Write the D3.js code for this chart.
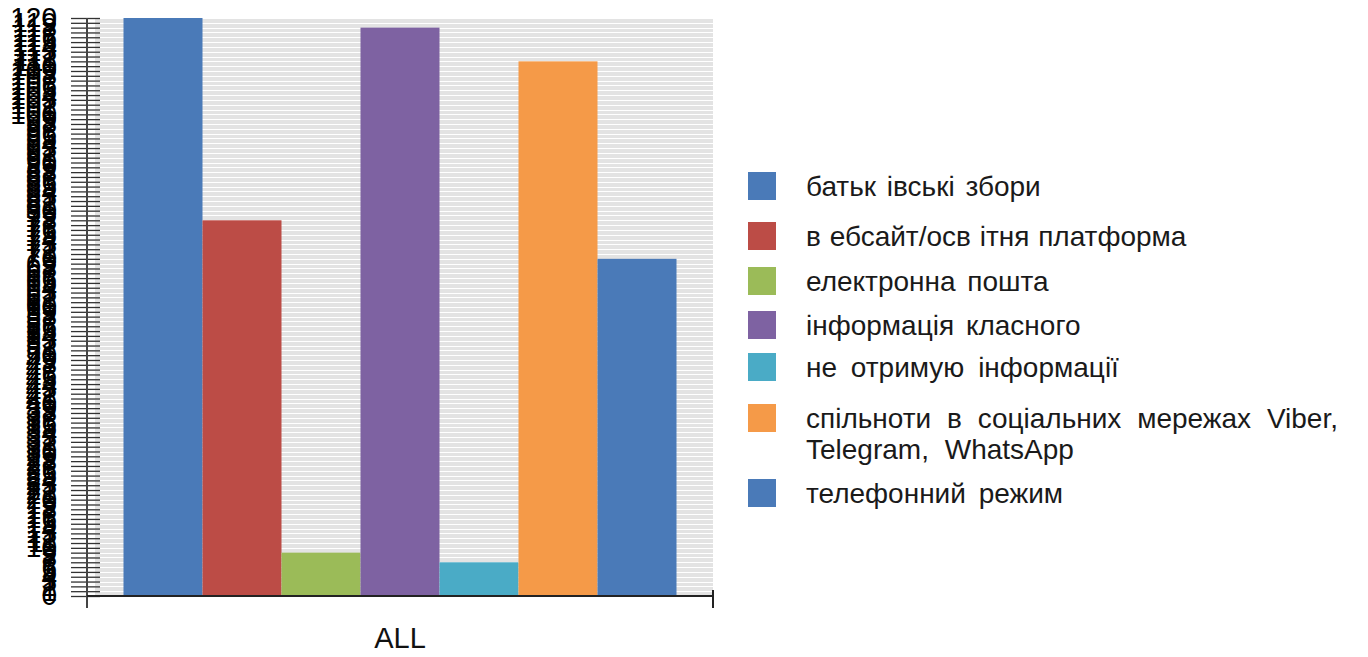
<!DOCTYPE html>
<html><head><meta charset="utf-8">
<script src="https://cdn.jsdelivr.net/npm/d3@7"></script>
<style>body{margin:0;background:#fff;} text{font-family:"Liberation Sans",Arial,sans-serif;}</style>
</head><body>
<svg id="c" width="1368" height="657"></svg>
<script>
const categories = ["ALL"];
const seriesNames = ["батьківські збори","вебсайт/освітня платформа","електронна пошта","інформація класного","не  отримую інформації","спільноти в соціальних мережах Viber, Telegram, WhatsApp","телефонний режим"];
const legendLines = [["батьк івські збори"],["в ебсайт/осв ітня платформа"],["електронна пошта"],["інформація класного"],["не  отримую інформації"],["спільноти в соціальних мережах Viber,","Telegram, WhatsApp"],["телефонний режим"]];
const values = [120, 78, 9, 118, 7, 111, 70];
const colors = ["#4a7ab8","#bc4c46","#9bbb58","#7e62a2","#4aabc6","#f59a48","#4a7ab8"];
const yTicks = d3.range(0, 121, 1);

const svg = d3.select("#c");
const plot = {left: 87, right: 713, top: 18, bottom: 596};

const y = d3.scaleLinear().domain([0, 120]).range([plot.bottom, plot.top]);
const x0 = d3.scaleBand().domain(categories).range([plot.left, plot.right]).paddingInner(0).paddingOuter(0.066);
const x1 = d3.scaleBand().domain(d3.range(values.length)).range([0, x0.bandwidth()]).padding(0);

// background
svg.append("rect").attr("x", 95).attr("y", plot.top).attr("width", plot.right - 95).attr("height", plot.bottom - plot.top).attr("fill", "#e3e3e3");
// gridlines
svg.append("g").selectAll("line").data(yTicks).join("line")
  .attr("x1", 95).attr("x2", plot.right)
  .attr("y1", d => Math.round(y(d)) + 0.5).attr("y2", d => Math.round(y(d)) + 0.5)
  .attr("stroke", "#ffffff").attr("stroke-width", 1);

// bars
const g = svg.append("g").attr("transform", `translate(${x0("ALL")},0)`);
g.selectAll("rect").data(values).join("rect")
  .attr("x", (d, i) => x1(i)).attr("width", x1.bandwidth())
  .attr("y", d => y(d)).attr("height", d => y(0) - y(d))
  .attr("fill", (d, i) => colors[i]);

// y axis
const yAxis = d3.axisLeft(y).tickValues(yTicks).tickSize(14).tickPadding(16).tickFormat(d3.format("d"));
const ya = svg.append("g").attr("transform", `translate(${plot.left},0)`).call(yAxis);
ya.select(".domain").remove();
ya.selectAll(".tick line").attr("x2", 13).attr("x1", -16).attr("stroke", "#333").attr("stroke-width", 1.3);
ya.selectAll(".tick text").attr("font-size", 28).attr("fill", "#000").attr("x", -30);
svg.append("line").attr("x1", plot.left).attr("x2", plot.left).attr("y1", plot.top).attr("y2", 608).attr("stroke", "#444").attr("stroke-width", 2);

// x axis
const xAxis = d3.axisBottom(x0).tickSize(0).tickPadding(31);
const xa = svg.append("g").attr("transform", `translate(0,${plot.bottom})`).call(xAxis);
xa.select(".domain").attr("stroke", "#222").attr("stroke-width", 2).attr("d", `M${plot.left},0H${plot.right}`);
xa.selectAll(".tick text").attr("font-size", 29).attr("fill", "#111");
xa.append("line").attr("x1", plot.right).attr("x2", plot.right).attr("y1", -6).attr("y2", 12).attr("stroke", "#222").attr("stroke-width", 2);

// legend
const legendY = [186, 236, 281, 325, 367, 418, 493];
const wordSp = [3, 1, 4, 4, 6, 8, 5];
const lg = svg.append("g");
seriesNames.forEach((s, i) => {
  const row = lg.append("g").attr("transform", `translate(748,${legendY[i]})`);
  row.append("rect").attr("x", 0).attr("y", -14).attr("width", 28).attr("height", 28).attr("fill", colors[i]);
  const t = row.append("text").attr("x", 58).attr("y", 10).attr("font-size", 28).attr("word-spacing", wordSp[i]).attr("fill", "#1a1a1a");
  legendLines[i].forEach((ln, j) => t.append("tspan").attr("x", 58).attr("dy", j === 0 ? 0 : 31).text(ln));
});
</script>
</body></html>
